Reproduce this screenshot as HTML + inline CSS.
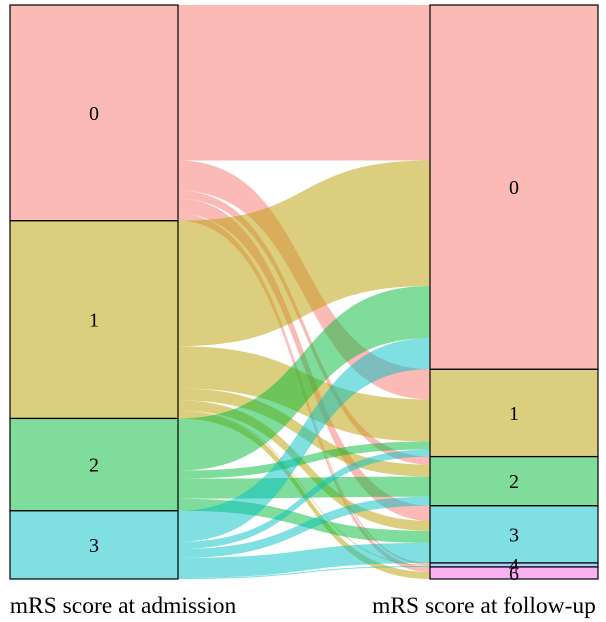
<!DOCTYPE html>
<html><head><meta charset="utf-8"><style>
body{margin:0;background:#fff;}
svg{display:block;font-family:"Liberation Serif",serif;}
</style></head><body>
<svg id="chart" width="606" height="622" viewBox="0 0 606 622" xmlns="http://www.w3.org/2000/svg"></svg>
<script>
const leftCats=["0","1","2","3"];
const rightCats=["0","1","2","3","4","6"];
// flows[i][j]: count from admission level i to follow-up level j
const flows0=[155,30,8,15,2,5];
const flows1=[125,42,12,10,1,7];
const flows2=[52,8,20,12,0,0];
const flows3=[31,7,9,20,1,0];
const flows=[flows0,flows1,flows2,flows3];
const axisLabels=["mRS score at admission","mRS score at follow-up"];
const colors={"0":"#F8766D","1":"#B79F00","2":"#00BA38","3":"#00BFC4","4":"#619CFF","6":"#F564E3"};

const svg=document.getElementById('chart');
const NS="http://www.w3.org/2000/svg";
const top0=5,bot0=579;
const total=flows.reduce((a,r)=>a+r.reduce((x,y)=>x+y,0),0);
const k=(bot0-top0)/total;
const y=v=>top0+v*k;
const LX0=10,LX1=178,RX0=430,RX1=598;
function mk(tag,attrs){const e=document.createElementNS(NS,tag);for(const a in attrs)e.setAttribute(a,attrs[a]);svg.appendChild(e);return e;}

const leftTot=flows.map(r=>r.reduce((a,b)=>a+b,0));
const rightTot=rightCats.map((c,j)=>flows.reduce((a,r)=>a+r[j],0));
const leftStart=[];let acc=0;leftTot.forEach((t,i)=>{leftStart.push(acc);acc+=t;});
const rightStart=[];acc=0;rightTot.forEach((t,j)=>{rightStart.push(acc);acc+=t;});

const lOff=leftStart.slice();
const flowList=[];
for(let i=0;i<flows.length;i++){for(let j=0;j<rightCats.length;j++){
  const v=flows[i][j];const a0=lOff[i];lOff[i]+=v;
  flowList.push({i,j,v,a0});
}}
const rPos={};
for(let j=0;j<rightCats.length;j++){let o=rightStart[j];for(let i=0;i<flows.length;i++){rPos[i+'_'+j]=o;o+=flows[i][j];}}
flowList.forEach(f=>{
  if(f.v<=0)return;
  const b0=rPos[f.i+'_'+f.j];
  const ya=y(f.a0),yb=y(f.a0+f.v),yc=y(b0),yd=y(b0+f.v);
  const c1=LX1+(RX0-LX1)*0.55,c2=LX1+(RX0-LX1)*0.45;
  const d=`M${LX1},${ya} C${c1},${ya} ${c2},${yc} ${RX0},${yc} L${RX0},${yd} C${c2},${yd} ${c1},${yb} ${LX1},${yb} Z`;
  const p=mk('path',{d,fill:colors[leftCats[f.i]],'fill-opacity':0.5});
  
  
});
function stratum(x0,x1,s,t,cat,side){
  const r=mk('rect',{x:x0,y:y(s),width:x1-x0,height:t*k,fill:colors[cat],'fill-opacity':0.5,stroke:'#000','stroke-width':1.2});
  
  
  const tx=mk('text',{x:(x0+x1)/2,y:y(s+t/2)+7,'text-anchor':'middle','font-size':20,fill:'#000'});
  tx.textContent=cat;
  
  
}
leftCats.forEach((c,i)=>stratum(LX0,LX1,leftStart[i],leftTot[i],c,'left'));
rightCats.forEach((c,j)=>stratum(RX0,RX1,rightStart[j],rightTot[j],c,'right'));
const xl=[123,484];
axisLabels.forEach((t,i)=>{
  const e=mk('text',{x:xl[i],y:613,'text-anchor':'middle','font-size':23.5,fill:'#000'});
  e.textContent=t;
  
  
});
</script>
</body></html>
